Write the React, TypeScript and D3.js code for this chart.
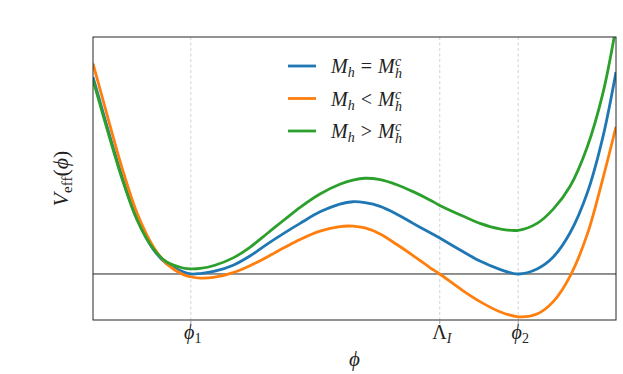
import React from 'react';
import * as d3 from 'd3';

// field values (arbitrary units)
const phi = [0, 0.023, 0.038, 0.057, 0.084, 0.115, 0.141, 0.172, 0.187, 0.205, 0.233, 0.268, 0.3, 0.333, 0.367, 0.396, 0.434, 0.472, 0.497, 0.52, 0.549, 0.581, 0.612, 0.644, 0.663, 0.707, 0.74, 0.778, 0.813, 0.849, 0.88, 0.912, 0.945, 0.975, 1.0];

const vCritical = [4.28, 3.36, 2.77, 2.06, 1.2, 0.54, 0.22, 0.05, 0.0, 0.01, 0.06, 0.19, 0.39, 0.65, 0.9, 1.1, 1.35, 1.52, 1.57, 1.55, 1.47, 1.3, 1.1, 0.9, 0.78, 0.49, 0.28, 0.1, 0.0, 0.11, 0.37, 0.89, 1.76, 2.98, 4.39];
const vBelow = [4.57, 3.62, 3.0, 2.25, 1.33, 0.6, 0.22, -0.01, -0.06, -0.09, -0.07, 0.03, 0.18, 0.37, 0.58, 0.75, 0.93, 1.03, 1.04, 1.0, 0.87, 0.64, 0.4, 0.14, 0.0, -0.36, -0.6, -0.82, -0.93, -0.87, -0.6, -0.05, 0.86, 2.08, 3.2];
const vAbove = [4.22, 3.3, 2.72, 2.02, 1.18, 0.55, 0.26, 0.13, 0.11, 0.12, 0.19, 0.35, 0.58, 0.88, 1.19, 1.45, 1.74, 1.95, 2.04, 2.08, 2.05, 1.94, 1.79, 1.61, 1.49, 1.26, 1.1, 0.98, 0.95, 1.1, 1.41, 1.9, 2.76, 3.93, 5.37];

const tickPhi = [0.187, 0.663, 0.813];
const tickNames = ['phi1', 'LambdaI', 'phi2'];

const series = [
  { key: 'eq', values: vCritical, color: '#1f77b4', rel: '=' },
  { key: 'lt', values: vBelow, color: '#ff7f0e', rel: '<' },
  { key: 'gt', values: vAbove, color: '#2ca02c', rel: '>' },
];

const W = 623;
const H = 374;
const margin = { top: 37, right: 7, bottom: 54, left: 93 };
const FONT = '"Liberation Serif", "DejaVu Serif", serif';

const TickLabel = ({ name, x, y }: { name: string; x: number; y: number }) => {
  if (name === 'LambdaI') {
    return (
      <text x={x} y={y} textAnchor="middle" fontFamily={FONT} fontSize={20} fill="#222">
        <tspan>Λ</tspan>
        <tspan fontStyle="italic" fontSize={14} dy={4}>I</tspan>
      </text>
    );
  }
  return (
    <text x={x} y={y} textAnchor="middle" fontFamily={FONT} fontSize={20} fill="#222">
      <tspan fontStyle="italic">ϕ</tspan>
      <tspan fontSize={14} dy={4}>{name === 'phi1' ? '1' : '2'}</tspan>
    </text>
  );
};

// M_h (rel) M_h^c, with the c stacked over the h
const LegendLabel = ({ rel, x, y }: { rel: string; x: number; y: number }) => (
  <text x={x} y={y} fontSize={20} fontFamily={FONT} fill="#222">
    <tspan fontStyle="italic">M</tspan>
    <tspan fontStyle="italic" fontSize={14} dy={4}>h</tspan>
    <tspan dy={-4} dx={6}>{rel}</tspan>
    <tspan fontStyle="italic" dx={6}>M</tspan>
    <tspan fontStyle="italic" fontSize={14} x={x + 64} dy={-7}>c</tspan>
    <tspan fontStyle="italic" fontSize={14} x={x + 64} dy={12}>h</tspan>
  </text>
);

const App = () => {
  const x = d3.scaleLinear().domain([0, 1]).range([margin.left, W - margin.right]);
  const y = d3.scaleLinear().domain([-1.0, 5.15]).range([H - margin.bottom, margin.top]);

  const line = d3
    .line<number>()
    .x((_, i) => x(phi[i]))
    .y((d) => y(d))
    .curve(d3.curveCatmullRom.alpha(0.5));

  const [x0, x1] = x.range();
  const [y0, y1] = y.range();

  return (
    <svg width={W} height={H} style={{ position: 'absolute', left: 0, top: 0, background: '#fff' }}>
      <defs>
        <clipPath id="plot">
          <rect x={x0} y={y1} width={x1 - x0} height={y0 - y1} />
        </clipPath>
      </defs>

      {/* dashed guides at the special field values */}
      {tickPhi.map((t) => (
        <line key={t} x1={x(t)} x2={x(t)} y1={y1} y2={y0} stroke="#c8c8c8" strokeWidth={0.8} strokeDasharray="3,2.5" />
      ))}

      {/* zero line */}
      <line x1={x0} x2={x1} y1={y(0)} y2={y(0)} stroke="#222" strokeWidth={1} />

      <g clipPath="url(#plot)">
        {series.map((s) => (
          <path key={s.key} d={line(s.values) || ''} fill="none" stroke={s.color} strokeWidth={2.8} />
        ))}
      </g>

      {/* frame */}
      <rect x={x0} y={y1} width={x1 - x0} height={y0 - y1} fill="none" stroke="#262626" strokeWidth={1} />

      {/* ticks + labels */}
      {tickPhi.map((t, i) => (
        <g key={t}>
          <line x1={x(t)} x2={x(t)} y1={y0} y2={y0 + 4} stroke="#888" strokeWidth={0.8} />
          <TickLabel name={tickNames[i]} x={x(t) + 2} y={339} />
        </g>
      ))}

      {/* axis titles */}
      <text x={(x0 + x1) / 2} y={366} textAnchor="middle" fontFamily={FONT} fontSize={21} fontStyle="italic" fill="#222">
        ϕ
      </text>
      <text
        transform={`translate(68,${(y0 + y1) / 2}) rotate(-90)`}
        textAnchor="middle"
        fontFamily={FONT}
        fontSize={22}
        fill="#222"
      >
        <tspan fontStyle="italic">V</tspan>
        <tspan fontSize={15} dy={4}>eff</tspan>
        <tspan dy={-4}>(</tspan>
        <tspan fontStyle="italic">ϕ</tspan>
        <tspan>)</tspan>
      </text>

      {/* legend */}
      {series.map((s, i) => (
        <g key={s.key} transform={`translate(288,${66 + i * 32.5})`}>
          <line x1={0} x2={28} y1={0} y2={0} stroke={s.color} strokeWidth={2.8} />
          <LegendLabel rel={s.rel} x={43} y={7} />
        </g>
      ))}
    </svg>
  );
};

export default App;
